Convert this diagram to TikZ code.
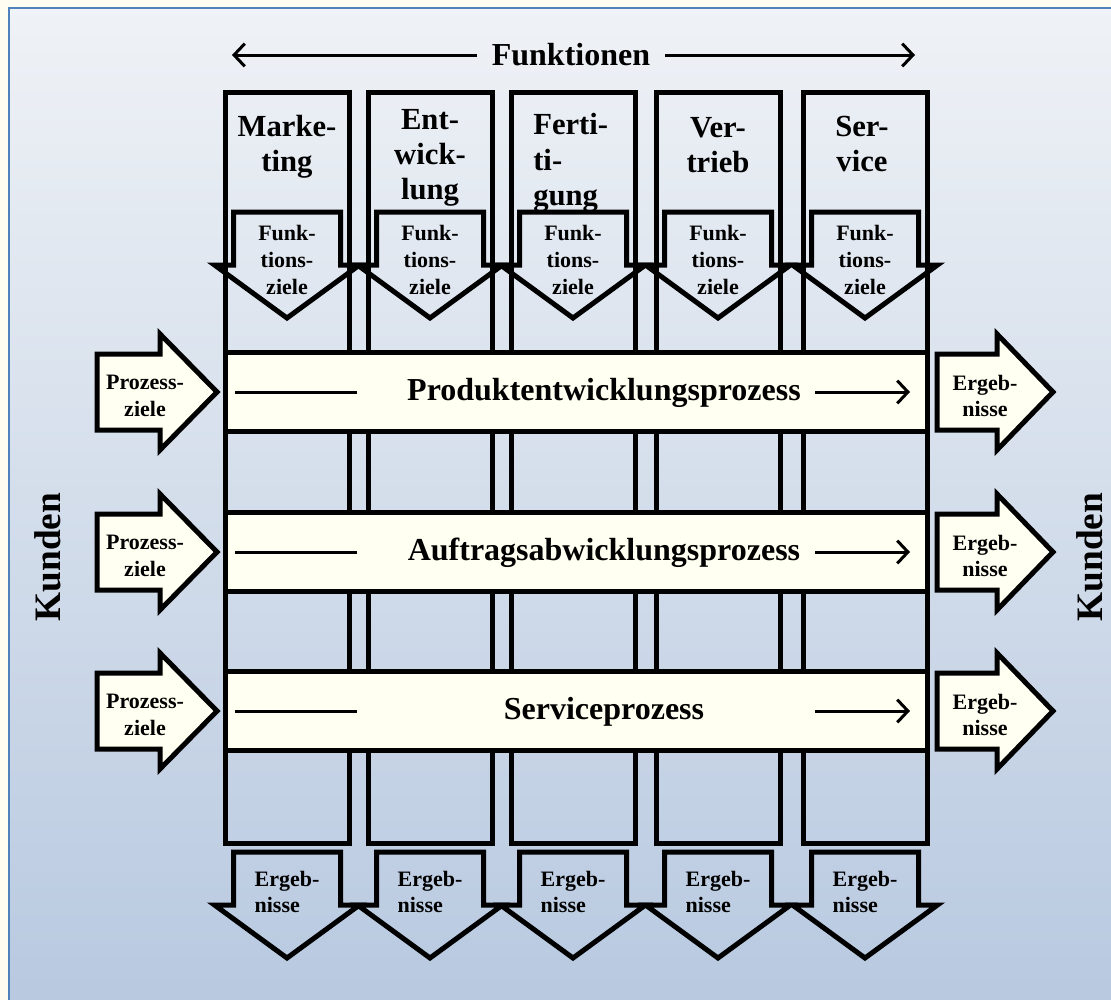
\documentclass[tikz,border=0pt]{standalone}
\usepackage{fontspec}
\setmainfont{Liberation Serif}
\usetikzlibrary{arrows.meta}
\definecolor{paper}{HTML}{FFFDF2}
\definecolor{bgtop}{HTML}{EFF2F6}
\definecolor{bgbot}{HTML}{B8C9E0}
\definecolor{frameblue}{HTML}{4F81BD}
\definecolor{barfill}{HTML}{FFFFF2}
\begin{document}
\begin{tikzpicture}[x=0.75pt,y=-0.75pt,
  outline/.style={draw=black, line width=3.75pt, line join=miter, miter limit=10},
  barbox/.style={outline, fill=barfill},
  flowline/.style={draw=black, line width=2.25pt},
  flowarrow/.style={flowline, -{Straight Barb[length=8pt,width=17pt]}},
  biglabel/.style={font=\bfseries\fontsize{23}{26.5}\selectfont, inner sep=0pt, align=center},
  titlelabel/.style={font=\bfseries\fontsize{24}{28}\selectfont, inner sep=0pt, align=center},
  smalllabel/.style={font=\bfseries\fontsize{16.5}{20}\selectfont, inner sep=0pt, align=center},
  sidelabel/.style={font=\bfseries\fontsize{28}{31}\selectfont, inner sep=0pt, rotate=90}
]
\useasboundingbox (0,0) rectangle (1111,1000);

% page, shaded panel and its frame
\fill[paper] (0,0) rectangle (1111,1000);
\shade[top color=bgtop, bottom color=bgbot] (9,8) rectangle (1111,1000);
\draw[frameblue, line width=1.5pt] (9,1000) -- (9,8) -- (1111,8);

% heading with double arrow
\node[titlelabel, inner xsep=11pt] (fkt) at (571,55) {Funktionen};
\coordinate (fktL) at (232,55);
\coordinate (fktR) at (915,55);
\draw[flowarrow] (fkt.west) -- (fktL);
\draw[flowarrow] (fkt.east) -- (fktR);

% function columns
\foreach \cx in {287,430,573,718,865}
  \draw[outline] (\cx-62,92) rectangle (\cx+62,843);

% column headings
\node[biglabel] (h1) at (287,147) {Marke-\\ting};
\node[biglabel] (h2) at (430,158) {Ent-\\wick-\\lung};
\node[biglabel, align=left, anchor=west] (h3) at (533,163) {Ferti-\\ti-\\gung};
\node[biglabel] (h4) at (718,145) {Ver-\\trieb};
\node[biglabel] (h5) at (862,144) {Ser-\\vice};

% function goals (downward arrows under the headings)
\foreach \cx [count=\i] in {287,430,573,718,865} {
  \draw[outline] (\cx-53.5,212) -- (\cx+53.5,212) -- (\cx+53.5,265) -- (\cx+72.5,265)
    -- (\cx,318) -- (\cx-72.5,265) -- (\cx-53.5,265) -- cycle;
  \node[smalllabel] (fz\i) at (\cx,260) {Funk-\\tions-\\ziele};
}

% results of the functions (downward arrows at the bottom)
\foreach \cx [count=\i] in {287,430,573,718,865} {
  \draw[outline] (\cx-53.5,852) -- (\cx+53.5,852) -- (\cx+53.5,905) -- (\cx+72.5,905)
    -- (\cx,958) -- (\cx-72.5,905) -- (\cx-53.5,905) -- cycle;
  \node[smalllabel, align=left] (fe\i) at (\cx,892) {Ergeb-\\nisse};
}

% process bars with goals on the left and results on the right
\foreach \cy/\name/\txt in {392/p1/Produktentwicklungsprozess,
                            552/p2/Auftragsabwicklungsprozess,
                            711/p3/Serviceprozess} {
  \draw[barbox] (225,\cy-39.5) rectangle (927,\cy+39.5);
  \node[titlelabel] (\name) at (604,\cy+1) {\txt};
  \coordinate (\name a) at (235,\cy);
  \coordinate (\name b) at (357,\cy);
  \coordinate (\name c) at (815,\cy);
  \coordinate (\name d) at (910,\cy);
  \draw[flowline] (\name a) -- (\name b);
  \draw[flowarrow] (\name c) -- (\name d);
  % goals entering the process
  \draw[outline, fill=barfill] (97,\cy-38) -- (160,\cy-38) -- (160,\cy-58) -- (217,\cy)
    -- (160,\cy+58) -- (160,\cy+38) -- (97,\cy+38) -- cycle;
  \node[smalllabel] (\name g) at (145,\cy+4) {Prozess-\\ziele};
  % results leaving the process
  \draw[outline, fill=barfill] (937,\cy-38) -- (997,\cy-38) -- (997,\cy-58) -- (1053,\cy)
    -- (997,\cy+58) -- (997,\cy+38) -- (937,\cy+38) -- cycle;
  \node[smalllabel] (\name r) at (985,\cy+4) {Ergeb-\\nisse};
}

% customers on both sides
\node[sidelabel] (kl) at (48,557) {Kunden};
\node[sidelabel] (kr) at (1090,557) {Kunden};
\end{tikzpicture}
\end{document}
